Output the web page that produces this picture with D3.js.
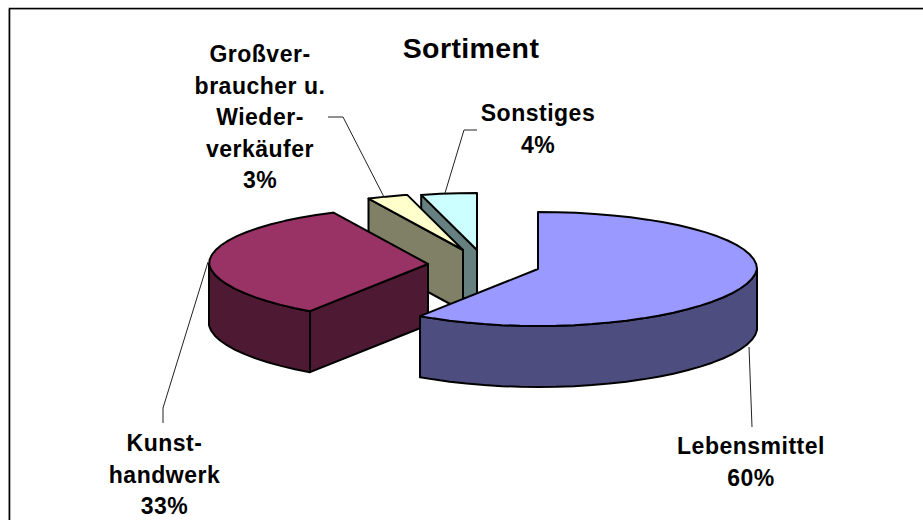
<!DOCTYPE html>
<html><head><meta charset="utf-8">
<script src="https://cdn.jsdelivr.net/npm/d3@7/dist/d3.min.js"></script>
<style>html,body{margin:0;padding:0;background:#fff}svg{display:block}
text{font-family:"Liberation Sans",Arial,sans-serif;font-weight:bold;fill:#000}</style>
</head><body><svg id="c" width="923" height="520"></svg>
<script>
const title = "Sortiment";
const categories = ["Lebensmittel","Kunsthandwerk","Großverbraucher u. Wiederverkäufer","Sonstiges"];
const values = [59.5,33.4,3.0,4.1];
const labelLines = [["Lebensmittel"],["Kunst-","handwerk"],["Großver-","braucher u.","Wieder-","verkäufer"],["Sonstiges"]];
const topColors = ["#9999FF","#993366","#FFFFCC","#CCFFFF"];
const sideColors = ["#4D4D80","#4D1933","#808066","#668080"];

const svg = d3.select("#c");
const RX = 219, RY = 57, DEPTH = 61, STEP = Math.PI/36;
const centers = [[538,269],[428,264],[463,250],[477,250]];
const labelPos = [[751,454],[164.5,451],[260,62],[538,121]];
const leaders = [
  [[749,347],[752,427]],
  [[208,262],[163,408],[163,423]],
  [[384,197],[343,117],[328,117]],
  [[445,193],[464,130],[477,130]]
];
const LH = 31.5;

// frame
svg.append("path").attr("d","M8.5,520V9.5H923").attr("fill","none").attr("stroke","#ccc").attr("stroke-width",1);
svg.append("path").attr("d","M9.5,520V8.5H923").attr("fill","none").attr("stroke","#000").attr("stroke-width",1.6);

const arcs = d3.pie().sort(null).value(d=>d)(values);
const ptScale = d3.scaleLinear().domain([-1,1]);
function proj(i,a,dz=0){
  const [cx,cy]=centers[i];
  const c=Math.cos(a), s=Math.sin(a);
  const f = c<0 ? 1+0.05*c : 1;
  return [ptScale.copy().range([cx-RX,cx+RX])(s*f),
          ptScale.copy().range([cy+RY,cy-RY])(c)+dz];
}
function angles(a0,a1){
  const r=d3.range(a0,a1,STEP); r.push(a1); return r;
}
const line=d3.line();
const SW=2;
function poly(pts,fill){
  svg.append("path").attr("d",line(pts)+"Z").attr("fill",fill)
    .attr("stroke","#000").attr("stroke-width",SW).attr("stroke-linejoin","round");
}
// back to front
[3,2,1,0].forEach(i=>{
  const a=arcs[i];
  const c=centers[i];
  // radial wall at the start edge, if it faces the viewer
  if(a.startAngle>Math.PI){
    const p=proj(i,a.startAngle);
    poly([c,p,[p[0],p[1]+DEPTH],[c[0],c[1]+DEPTH]],sideColors[i]);
  }
  // outer wall
  const w0=Math.max(a.startAngle,Math.PI/2), w1=Math.min(a.endAngle,1.5*Math.PI);
  if(w1>w0){
    const as=angles(w0,w1);
    const t=as.map(x=>proj(i,x)), b=as.map(x=>proj(i,x,DEPTH)).reverse();
    poly(t.concat(b),sideColors[i]);
  }
  // top face
  poly([c].concat(angles(a.startAngle,a.endAngle).map(x=>proj(i,x))),topColors[i]);
});
// leaders
leaders.forEach(l=>{
  svg.append("path").attr("d",line(l)).attr("fill","none").attr("stroke","#222").attr("stroke-width",1);
});
// labels
labelLines.forEach((lines,i)=>{
  const all=lines.concat([Math.round(values[i])+"%"]);
  const [x,y]=labelPos[i];
  all.forEach((t,j)=>{
    svg.append("text").attr("x",x).attr("y",y+j*LH).attr("text-anchor","middle")
      .attr("font-size",23).attr("letter-spacing",0.5).text(t);
  });
});
svg.append("text").attr("x",471).attr("y",58).attr("text-anchor","middle").attr("font-size",28.5).attr("letter-spacing",0.4).text(title);
</script></body></html>
